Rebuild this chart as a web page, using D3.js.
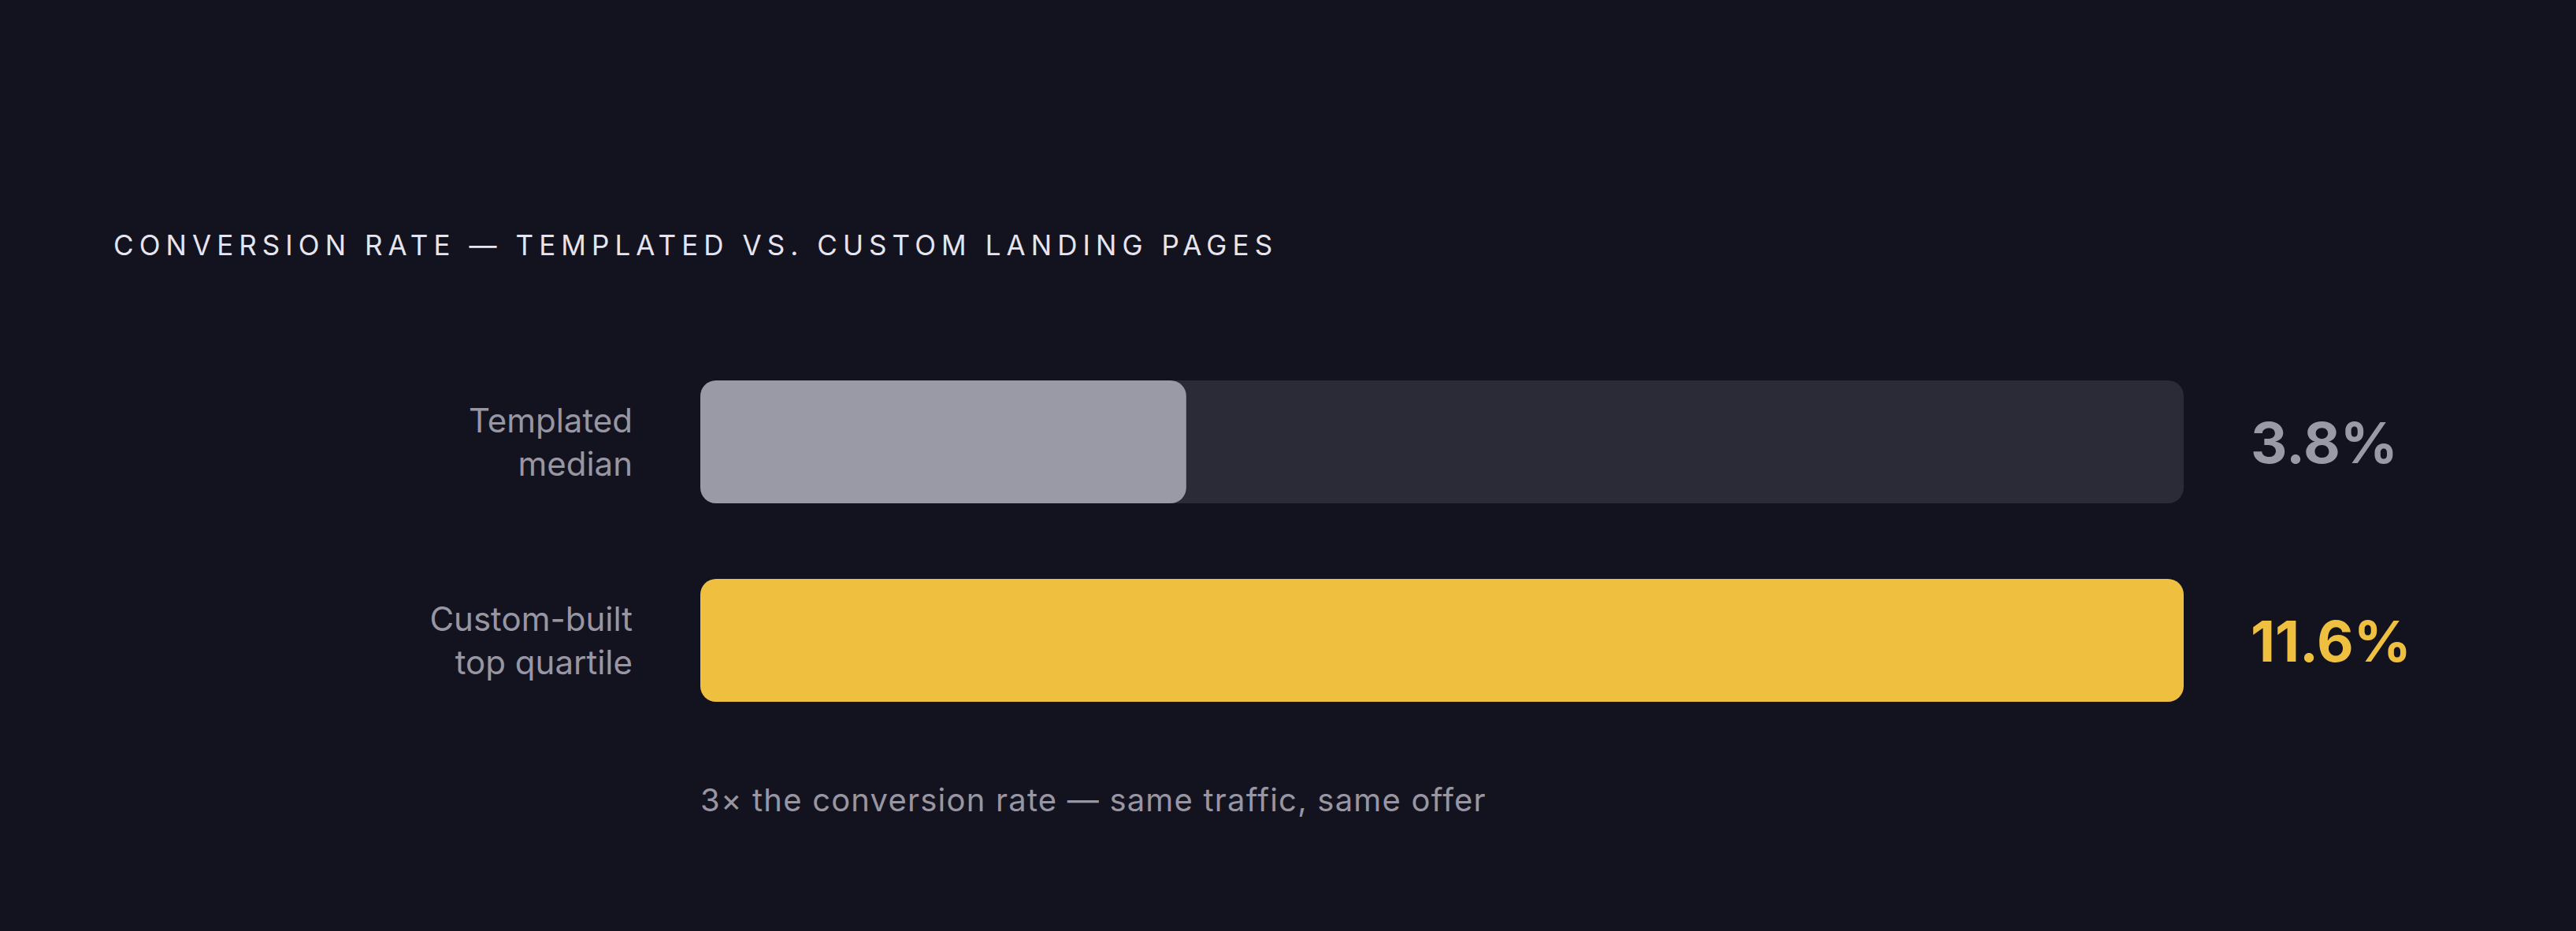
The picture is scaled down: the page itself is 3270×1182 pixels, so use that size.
<!DOCTYPE html>
<html>
<head>
<meta charset="utf-8">
<script src="https://cdn.jsdelivr.net/npm/d3@7"></script>
<style>
  html, body { margin: 0; padding: 0; background: #13131f; }
  svg { display: block; font-family: Inter, "Noto Sans", sans-serif; }
</style>
</head>
<body>
<div id="canvas"></div>
<script>
const categories = ["Templated median", "Custom-built top quartile"];
const labelLines = [["Templated", "median"], ["Custom-built", "top quartile"]];
const rates = [3.8, 11.6];
const valueLabels = ["3.8%", "11.6%"];
const title = "CONVERSION RATE — TEMPLATED VS. CUSTOM LANDING PAGES";
const note = "3× the conversion rate — same traffic, same offer";

const width = 3270;
const height = 1182;
const colors = ["#9a99a6", "#efc040"];

const svg = d3
  .select("#canvas")
  .append("svg")
  .attr("width", width)
  .attr("height", height);

svg.append("rect")
  .attr("width", width)
  .attr("height", height)
  .attr("fill", "#13131f");

// titulo
svg.append("text")
  .attr("x", 144)
  .attr("y", 324)
  .attr("fill", "#e6e4ee")
  .style("font-size", "35px")
  .style("letter-spacing", "0.202em")
  .text(title);

const x = d3.scaleLinear()
  .domain([0, d3.max(rates)])
  .range([889, 2772]);

const y = d3.scaleBand()
  .domain(categories)
  .range([483, 891])
  .paddingInner(96 / 252);

const rows = svg.selectAll("g.row")
  .data(categories)
  .enter()
  .append("g")
  .attr("class", "row");

// pista de fondo
rows.append("rect")
  .attr("x", x(0))
  .attr("y", d => y(d))
  .attr("width", x(d3.max(rates)) - x(0))
  .attr("height", y.bandwidth())
  .attr("rx", 20)
  .attr("fill", "#2b2b38");

rows.append("rect")
  .attr("x", x(0))
  .attr("y", d => y(d))
  .attr("width", (d, i) => x(rates[i]) - x(0))
  .attr("height", y.bandwidth())
  .attr("rx", 20)
  .attr("fill", (d, i) => colors[i]);

// etiquetas de categoria
rows.append("text")
  .attr("text-anchor", "end")
  .attr("fill", "#9896a3")
  .style("font-size", "42px")
  .selectAll("tspan")
  .data((d, i) => labelLines[i].map((t, k) => ({ t, k, d })))
  .enter()
  .append("tspan")
  .attr("x", 803)
  .attr("y", o => y(o.d) + y.bandwidth() / 2 - 12 + o.k * 55)
  .text(o => o.t);

// valores
rows.append("text")
  .attr("x", 2857)
  .attr("y", d => y(d) + y.bandwidth() / 2 + 27)
  .attr("fill", (d, i) => colors[i])
  .style("font-size", "72px")
  .style("font-weight", 700)
  .text((d, i) => valueLabels[i]);

svg.append("text")
  .attr("x", x(0))
  .attr("y", 1030)
  .attr("fill", "#9896a3")
  .style("font-size", "40px")
  .style("letter-spacing", "0.03em")
  .text(note);
</script>
</body>
</html>
